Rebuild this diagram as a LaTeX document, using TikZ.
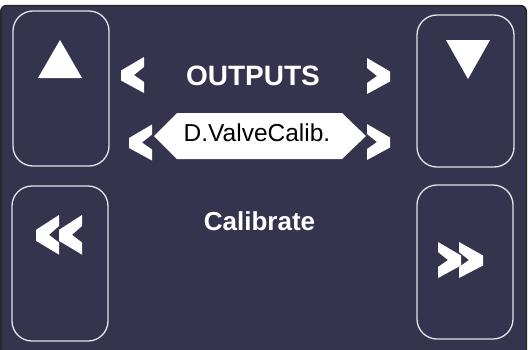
\documentclass[tikz,border=0pt]{standalone}
\usepackage{fontspec}
\setmainfont{Liberation Sans}
\usetikzlibrary{calc}

\definecolor{panelbg}{RGB}{53,52,79}
\definecolor{btnline}{RGB}{228,228,234}

\begin{document}
\begin{tikzpicture}[x = 1pt, y = -1pt]

\tikzstyle{button} = [rectangle, draw = btnline, line width = 1.3pt, rounded corners = 20pt, inner sep = 0pt]

\tikzstyle{icon} = [fill = white]

\tikzstyle{title_txt} = [text = white, font = \bfseries\fontsize{28pt}{28pt}\selectfont, inner sep = 0pt, anchor = base]

\tikzstyle{sub_txt} = [text = white, font = \bfseries\fontsize{26pt}{26pt}\selectfont, inner sep = 0pt, anchor = base]

\tikzstyle{value_txt} = [text = black, font = \fontsize{24.5pt}{24.5pt}\selectfont, inner sep = 0pt, anchor = base]

\useasboundingbox (0,0) rectangle (530,349);

% panel
\draw[fill = panelbg, draw = black!85, line width = 1.5pt, rounded corners = 6pt] (0.8,5.5) rectangle (526.3,365);

% buttons
\node [button, minimum width = 96pt, minimum height = 155pt] (btn_up) at (61,88.5) {};
\node [button, minimum width = 97pt, minimum height = 152pt] (btn_down) at (465.5,91) {};
\node [button, minimum width = 96pt, minimum height = 155pt] (btn_rew) at (60,263.5) {};
\node [button, minimum width = 96pt, minimum height = 154pt] (btn_fwd) at (465,262) {};

% up / down triangles
\fill[icon] (38,78) -- (82,78) -- (60,40) -- cycle;
\fill[icon] (446,40) -- (490,40) -- (468,79) -- cycle;

% chevrons round the title
\fill[icon, shift = {(144,57)}, xscale = -1] (0,0) -- (23,13.5) -- (23,23.5) -- (0,36) -- (0,25) -- (10,18) -- (0,10) -- cycle;
\fill[icon, shift = {(367,58)}] (0,0) -- (23,13.5) -- (23,23.5) -- (0,36) -- (0,25) -- (10,18) -- (0,10) -- cycle;

% value box
\fill[white] (154,136) -- (177,113) -- (342,113) -- (366,136) -- (342,159) -- (177,159) -- cycle;

% chevrons round the value
\fill[icon, shift = {(152,124.5)}, xscale = -1] (0,0) -- (23,13.5) -- (23,23.5) -- (0,36) -- (0,25) -- (10,18) -- (0,10) -- cycle;
\fill[icon, shift = {(367,124)}] (0,0) -- (23,13.5) -- (23,23.5) -- (0,36) -- (0,25) -- (10,18) -- (0,10) -- cycle;

% rewind
\fill[icon, shift = {(82,215)}, xscale = -1, yscale = 1.1] (0,0) -- (23,13.5) -- (23,23.5) -- (0,36) -- (0,25) -- (10,18) -- (0,10) -- cycle;
\fill[icon, shift = {(59,215)}, xscale = -1, yscale = 1.1] (0,0) -- (23,13.5) -- (23,23.5) -- (0,36) -- (0,25) -- (10,18) -- (0,10) -- cycle;

% forward
\fill[icon, shift = {(438,242)}] (0,0) -- (23,13.5) -- (23,23.5) -- (0,36) -- (0,25) -- (10,18) -- (0,10) -- cycle;
\fill[icon, shift = {(459,242)}] (0,0) -- (24,13.5) -- (24,23.5) -- (0,36) -- (0,25) -- (10,18) -- (0,10) -- cycle;

% texts
\node [title_txt] (outputs_txt) at (253,85) {OUTPUTS};
\node [value_txt] (valve_txt) at (257,141) {D.ValveCalib.};
\node [sub_txt] (calib_txt) at (259.5,230) {Calibrate};

\end{tikzpicture}
\end{document}
